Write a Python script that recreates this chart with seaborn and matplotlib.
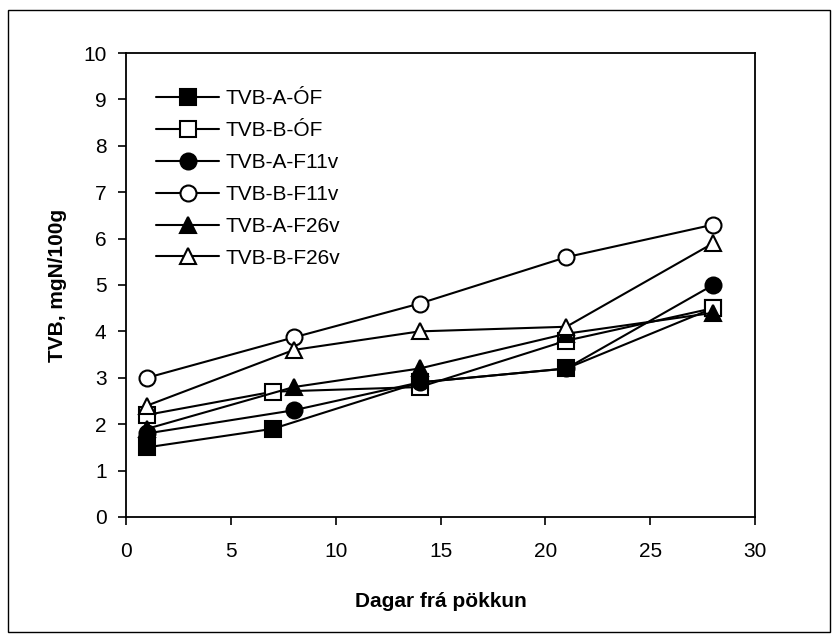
import matplotlib
matplotlib.use("Agg")
import matplotlib.pyplot as plt
import seaborn as sns
import pandas as pd
from matplotlib.patches import Rectangle

sns.set_style("white")
plt.rcParams['font.family'] = ['Liberation Sans', 'DejaVu Sans']
plt.rcParams['text.color'] = 'black'
plt.rcParams['axes.labelcolor'] = 'black'

series_names = ["TVB-A-ÓF", "TVB-B-ÓF", "TVB-A-F11v", "TVB-B-F11v", "TVB-A-F26v", "TVB-B-F26v"]
days_OF = [1, 7, 14, 21, 28]
days_F = [1, 8, 14, 21, 28]
tvb_A_OF = [1.5, 1.9, 2.9, 3.2, 4.5]
tvb_B_OF = [2.2, 2.7, 2.8, 3.8, 4.5]
tvb_A_F11v = [1.8, 2.3, 2.9, 3.2, 5.0]
tvb_B_F11v = [3.0, 3.87, 4.6, 5.6, 6.3]
tvb_A_F26v = [1.9, 2.8, 3.2, 3.95, 4.4]
tvb_B_F26v = [2.4, 3.6, 4.0, 4.1, 5.9]

xs = [days_OF, days_OF, days_F, days_F, days_F, days_F]
ys = [tvb_A_OF, tvb_B_OF, tvb_A_F11v, tvb_B_F11v, tvb_A_F26v, tvb_B_F26v]
markers = ["s", "s", "o", "o", "^", "^"]
faces = ["black", "white", "black", "white", "black", "white"]
sizes = [11, 11, 11.5, 11.5, 11.5, 11.5]

fig = plt.figure(figsize=(8.38, 6.39), dpi=100)
ax = fig.add_axes([0.1504, 0.191, 0.7506, 0.726])

for name, x, y, m, fc, ms in zip(series_names, xs, ys, markers, faces, sizes):
    df = pd.DataFrame({"x": x, "y": y})
    sns.lineplot(data=df, x="x", y="y", ax=ax, color="black", linewidth=1.5,
                 marker=m, markersize=ms, markerfacecolor=fc,
                 markeredgecolor="black", markeredgewidth=1.5, label=name)

ax.set_xlim(0, 30)
ax.set_ylim(0, 10)
ax.set_xticks(range(0, 31, 5))
ax.set_yticks(range(0, 11, 1))
ax.tick_params(axis="both", direction="out", length=6, width=1.2, labelsize=15,
               color="black", labelcolor="black", bottom=True, left=True)
ax.tick_params(axis="x", pad=12)
ax.tick_params(axis="y", pad=8)
for sp in ax.spines.values():
    sp.set_color("black")
    sp.set_linewidth(1.3)
    sp.set_visible(True)

ax.set_xlabel("Dagar frá pökkun", fontsize=15, fontweight="bold", labelpad=22)
ax.set_ylabel("TVB, mgN/100g", fontsize=15, fontweight="bold", labelpad=12)

leg = ax.legend(loc="upper left", bbox_to_anchor=(0.035, 0.94), frameon=False,
                fontsize=15, handlelength=3.0, labelspacing=0.62, handletextpad=0.3,
                borderaxespad=0)

fig.patches.append(Rectangle((8 / 838, 1 - 632 / 639), 822 / 838, 622 / 639,
                             transform=fig.transFigure, fill=False,
                             edgecolor="black", linewidth=1.0))

fig.savefig("out.png", dpi=100)
